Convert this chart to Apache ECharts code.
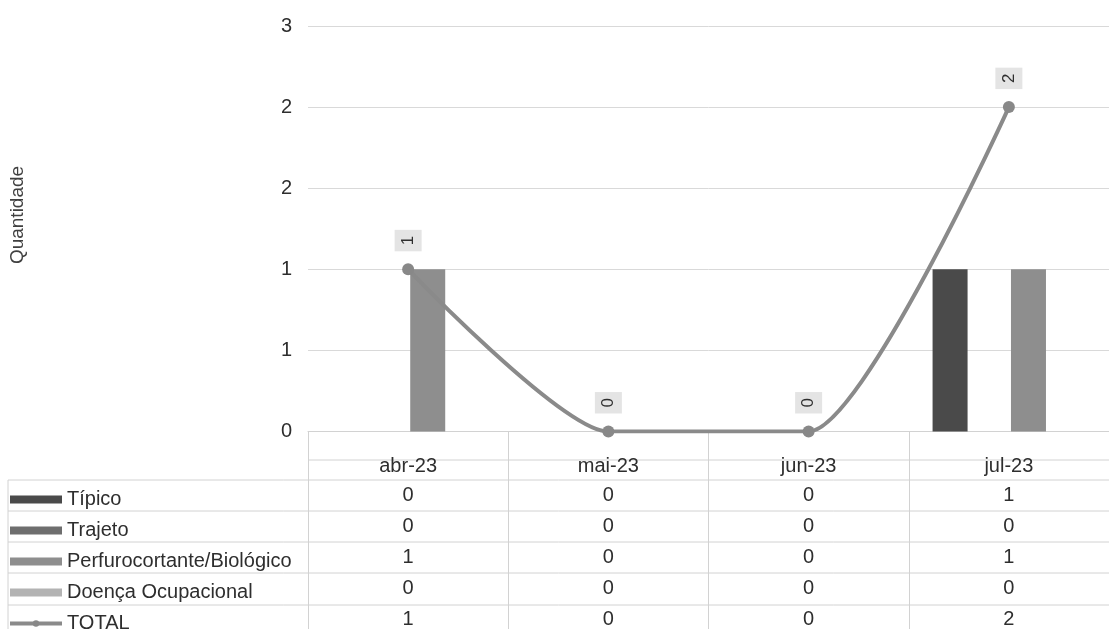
<!DOCTYPE html>
<html>
<head>
<meta charset="utf-8">
<script src="https://cdn.jsdelivr.net/npm/echarts@6/dist/echarts.min.js"></script>
<style>
html,body{margin:0;padding:0;background:#fff;}
#c{width:1109px;height:629px;}
</style>
</head>
<body>
<div id="c"></div>
<script>
var categories = ['abr-23', 'mai-23', 'jun-23', 'jul-23'];
var tipico = [0, 0, 0, 1];
var trajeto = [0, 0, 0, 0];
var perfuro = [1, 0, 0, 1];
var doenca = [0, 0, 0, 0];
var total = [1, 0, 0, 2];
var seriesNames = ['Típico', 'Trajeto', 'Perfurocortante/Biológico', 'Doença Ocupacional', 'TOTAL'];

var chart = echarts.init(document.getElementById('c'));
var font = 'Liberation Sans, Arial, sans-serif';
var lineColor = '#d2d2d2';
var textColor = '#2e2e2e';

function hline(y, x1, x2) {
  return { type: 'line', shape: { x1: x1, y1: y, x2: x2, y2: y }, style: { stroke: lineColor, lineWidth: 1 }, silent: true };
}

var rows = [tipico, trajeto, perfuro, doenca, total];

var option = {
  backgroundColor: '#ffffff',
  animation: false,
  textStyle: { fontFamily: font },
  grid: { left: 308, right: -6, top: 26, bottom: 195, containLabel: false },
  legend: {
    orient: 'vertical',
    left: 3,
    top: 484,
    height: 200,
    itemWidth: 52,
    itemHeight: 8,
    itemGap: 10,
    textStyle: { fontSize: 20, color: textColor, lineHeight: 21, fontFamily: font },
    data: seriesNames.map(function (n) {
      if (n === 'TOTAL') {
        return { name: n, lineStyle: { width: 4, color: '#8a8a8a' }, itemStyle: { color: '#888888' } };
      }
      return { name: n, icon: 'rect' };
    })
  },
  xAxis: {
    type: 'category',
    data: categories,
    axisLine: { show: true, lineStyle: { color: lineColor } },
    axisTick: { show: true, length: 200, interval: 0, lineStyle: { color: lineColor } },
    axisLabel: {
      interval: 0,
      margin: 21,
      color: textColor,
      fontFamily: font,
      formatter: function (value, idx) {
        var s = '{h|' + value + '}';
        rows.forEach(function (r) { s += '\n{v|' + r[idx] + '}'; });
        return s;
      },
      rich: {
        h: { fontSize: 20, lineHeight: 27, color: textColor, fontFamily: font },
        v: { fontSize: 20, lineHeight: 31, color: textColor, fontFamily: font }
      }
    }
  },
  yAxis: {
    type: 'value',
    min: 0,
    max: 2.5,
    interval: 0.5,
    axisLine: { show: false },
    axisTick: { show: false },
    splitLine: { lineStyle: { color: '#d9d9d9', width: 1 } },
    axisLabel: {
      margin: 16,
      fontSize: 20,
      color: textColor,
      fontFamily: font,
      formatter: function (v) { return String(Math.round(v)); }
    }
  },
  graphic: [
    {
      type: 'text',
      x: 18, y: 215,
      rotation: Math.PI / 2,
      style: { text: 'Quantidade', fontSize: 19, fill: '#404040', fontFamily: font, align: 'center', verticalAlign: 'middle' },
      silent: true
    },
    hline(460, 308, 1109),
    hline(480, 8, 1109),
    hline(511, 8, 1109),
    hline(542, 8, 1109),
    hline(573, 8, 1109),
    hline(605, 8, 1109),
    { type: 'line', shape: { x1: 8, y1: 480, x2: 8, y2: 629 }, style: { stroke: lineColor, lineWidth: 1 }, silent: true }
  ],
  series: [
    { name: 'Típico', type: 'bar', data: tipico, barWidth: 35, barGap: '12%', itemStyle: { color: '#4a4a4a' } },
    { name: 'Trajeto', type: 'bar', data: trajeto, barWidth: 35, barGap: '12%', itemStyle: { color: '#6e6e6e' } },
    { name: 'Perfurocortante/Biológico', type: 'bar', data: perfuro, barWidth: 35, barGap: '12%', itemStyle: { color: '#8e8e8e' } },
    { name: 'Doença Ocupacional', type: 'bar', data: doenca, barWidth: 35, barGap: '12%', itemStyle: { color: '#b3b3b3' } },
    {
      name: 'TOTAL',
      type: 'line',
      data: total,
      smooth: 0.2,
      symbol: 'circle',
      symbolSize: 12,
      z: 5,
      lineStyle: { color: '#8a8a8a', width: 4 },
      itemStyle: { color: '#888888' },
      label: {
        show: true,
        position: 'top',
        distance: 12,
        rotate: 90,
        align: 'left',
        verticalAlign: 'middle',
        fontSize: 17,
        color: textColor,
        fontFamily: font,
        backgroundColor: '#e4e4e4',
        padding: [5, 6, 5, 6]
      }
    }
  ]
};
chart.setOption(option);
</script>
</body>
</html>
